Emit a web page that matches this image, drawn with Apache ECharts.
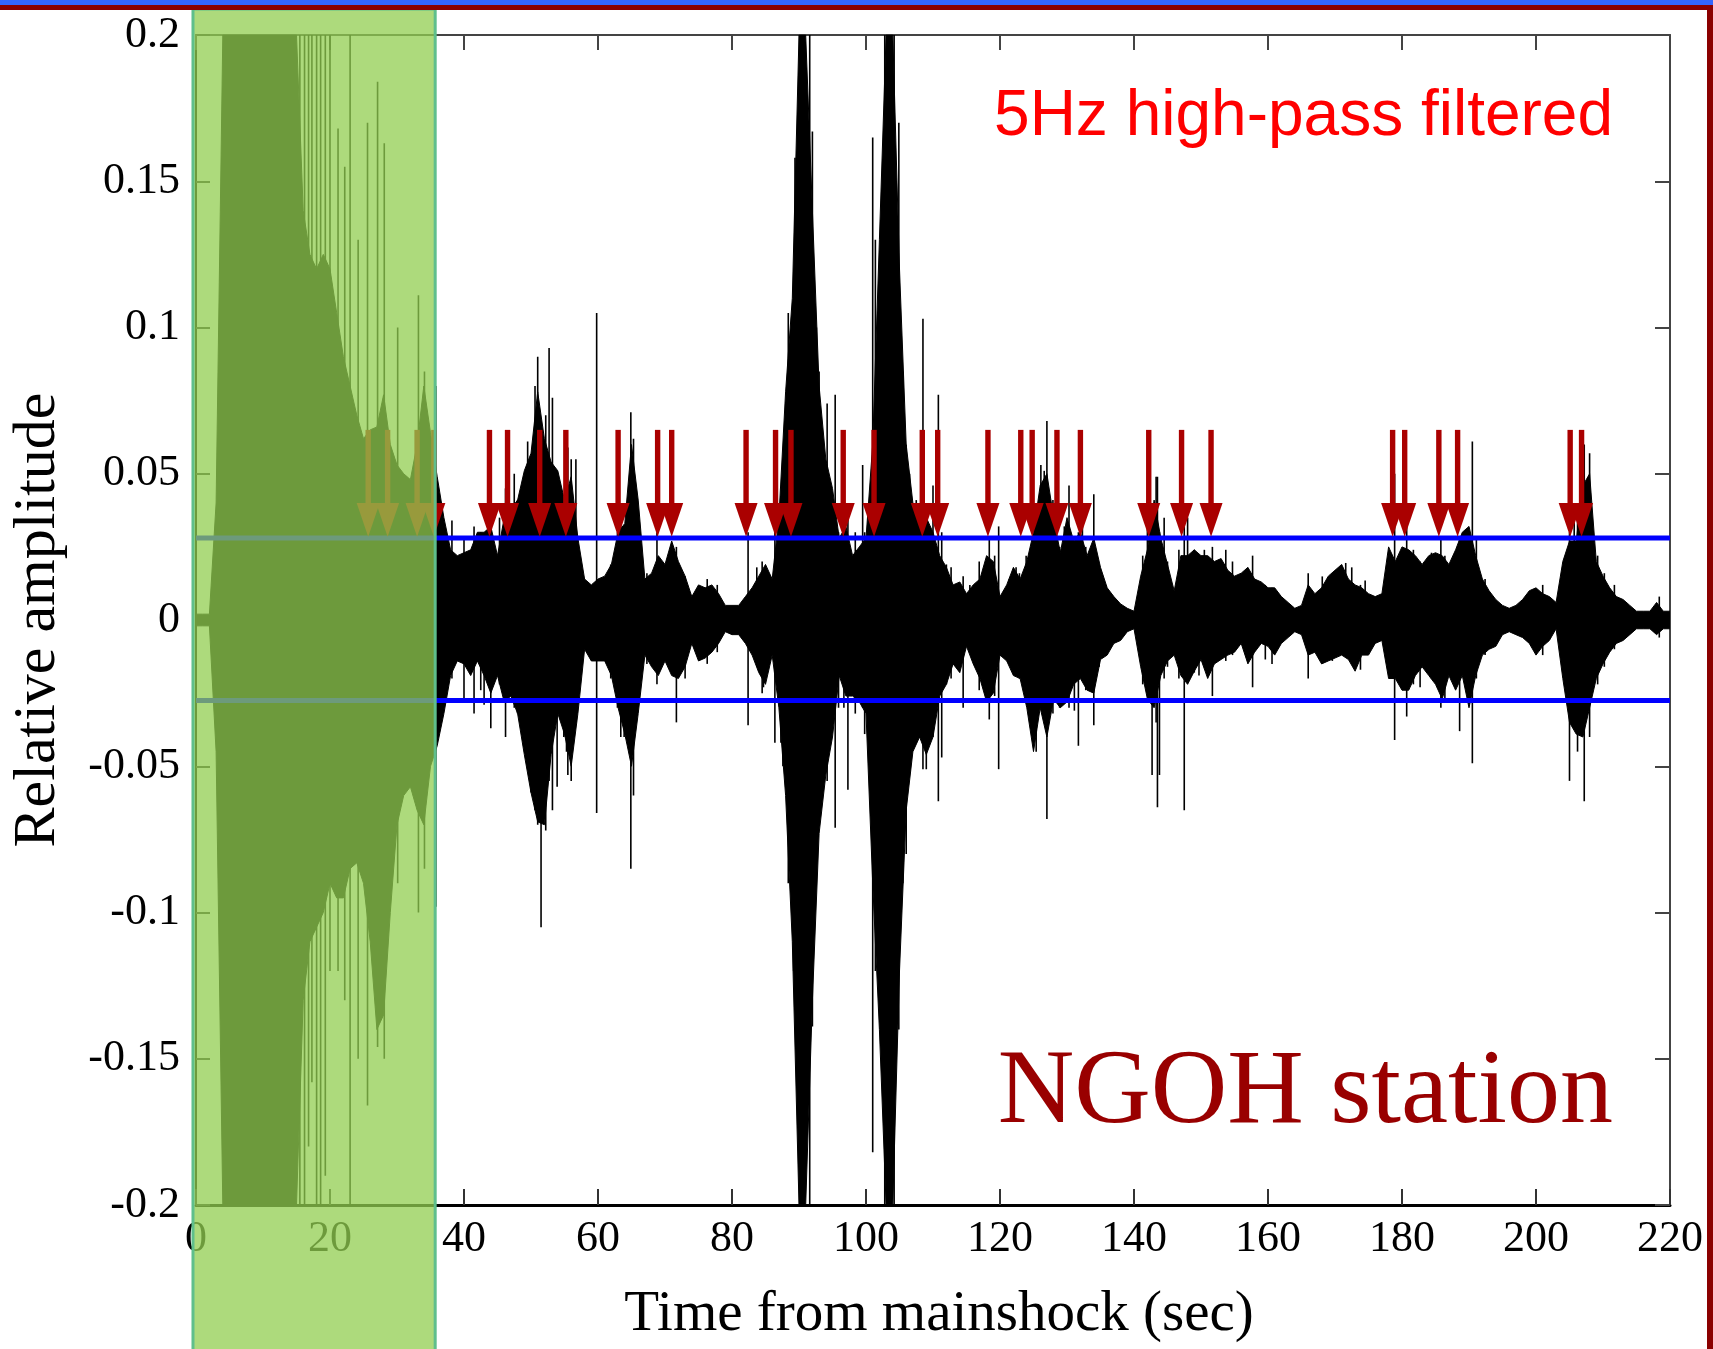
<!DOCTYPE html>
<html>
<head>
<meta charset="UTF-8">
<title>NGOH station - 5Hz high-pass filtered</title>
<script src="https://cdn.jsdelivr.net/npm/echarts@6/dist/echarts.min.js"></script>
<style>
    html, body {
        margin: 0;
        padding: 0;
        background: #fff;
    }
    #chart {
        width: 1713px;
        height: 1349px;
    }
</style>
</head>
<body>
<div id="chart"></div>
<script>
    // sample step of the envelope arrays (sec)
    var dt = 1;

    // upper envelope of the trace, one value per second from 0 to 220 s
    var upper = [
        0.002, 0.002, 0.002, 0.04, 0.2, 0.2, 0.2, 0.2, 0.2, 0.2,
        0.2, 0.2, 0.2, 0.2, 0.2, 0.2, 0.14, 0.125, 0.12, 0.125,
        0.12, 0.105, 0.09, 0.08, 0.07, 0.062, 0.065, 0.066, 0.077, 0.06,
        0.053, 0.05, 0.048, 0.06, 0.08, 0.064, 0.049, 0.035, 0.024, 0.022,
        0.023, 0.024, 0.03, 0.03, 0.032, 0.022, 0.035, 0.038, 0.041, 0.051,
        0.057, 0.078, 0.062, 0.054, 0.051, 0.041, 0.049, 0.028, 0.014, 0.012,
        0.014, 0.015, 0.019, 0.03, 0.033, 0.06, 0.041, 0.014, 0.016, 0.022,
        0.019, 0.027, 0.02, 0.015, 0.008, 0.012, 0.011, 0.012, 0.009, 0.005,
        0.005, 0.005, 0.008, 0.011, 0.015, 0.019, 0.014, 0.035, 0.078, 0.11,
        0.2, 0.2, 0.14, 0.08, 0.055, 0.045, 0.028, 0.032, 0.022, 0.025,
        0.028, 0.06, 0.13, 0.2, 0.2, 0.12, 0.06, 0.04, 0.035, 0.035,
        0.03, 0.022, 0.018, 0.012, 0.013, 0.009, 0.012, 0.014, 0.022, 0.02,
        0.008, 0.012, 0.018, 0.014, 0.02, 0.03, 0.046, 0.05, 0.035, 0.023,
        0.035, 0.027, 0.03, 0.022, 0.028, 0.018, 0.011, 0.008, 0.0055, 0.004,
        0.003, 0.015, 0.024, 0.041, 0.028, 0.019, 0.01, 0.022, 0.022, 0.024,
        0.022, 0.022, 0.02, 0.021, 0.017, 0.015, 0.016, 0.018, 0.014, 0.013,
        0.011, 0.011, 0.008, 0.006, 0.004, 0.005, 0.012, 0.009, 0.011, 0.015,
        0.017, 0.019, 0.014, 0.012, 0.011, 0.009, 0.008, 0.009, 0.025, 0.02,
        0.025, 0.024, 0.022, 0.019, 0.022, 0.023, 0.022, 0.019, 0.024, 0.03,
        0.032, 0.022, 0.014, 0.01, 0.007, 0.005, 0.004, 0.005, 0.007, 0.01,
        0.011, 0.009, 0.008, 0.006, 0.02, 0.027, 0.027, 0.046, 0.05, 0.02,
        0.015, 0.011, 0.008, 0.007, 0.005, 0.003, 0.003, 0.003, 0.006, 0.003,
        0.003
    ];

    // lower envelope, same sampling
    var lower = [
        -0.002, -0.002, -0.002, -0.045, -0.2, -0.2, -0.2, -0.2, -0.2, -0.2,
        -0.2, -0.2, -0.2, -0.2, -0.2, -0.2, -0.13, -0.11, -0.105, -0.1,
        -0.09, -0.095, -0.095, -0.085, -0.083, -0.09, -0.11, -0.14, -0.135, -0.1,
        -0.07, -0.06, -0.057, -0.065, -0.07, -0.05, -0.043, -0.032, -0.019, -0.014,
        -0.015, -0.019, -0.014, -0.019, -0.025, -0.019, -0.028, -0.026, -0.032, -0.046,
        -0.059, -0.069, -0.07, -0.046, -0.032, -0.039, -0.05, -0.032, -0.01, -0.014,
        -0.014, -0.014, -0.019, -0.03, -0.039, -0.05, -0.032, -0.012, -0.016, -0.019,
        -0.014, -0.019, -0.02, -0.016, -0.008, -0.014, -0.013, -0.011, -0.008, -0.004,
        -0.005, -0.005, -0.008, -0.012, -0.018, -0.022, -0.012, -0.03, -0.06, -0.11,
        -0.2, -0.2, -0.13, -0.073, -0.053, -0.04, -0.019, -0.026, -0.026, -0.028,
        -0.032, -0.09, -0.14, -0.2, -0.2, -0.12, -0.065, -0.045, -0.04, -0.046,
        -0.04, -0.026, -0.022, -0.015, -0.018, -0.009, -0.015, -0.02, -0.028, -0.025,
        -0.012, -0.014, -0.019, -0.02, -0.03, -0.045, -0.03, -0.04, -0.027, -0.03,
        -0.028, -0.022, -0.02, -0.024, -0.025, -0.0135, -0.012, -0.008, -0.007, -0.004,
        -0.003, -0.016, -0.027, -0.03, -0.019, -0.014, -0.012, -0.019, -0.022, -0.0175,
        -0.0135, -0.02, -0.015, -0.0135, -0.012, -0.011, -0.008, -0.015, -0.011, -0.008,
        -0.009, -0.012, -0.008, -0.006, -0.004, -0.005, -0.012, -0.011, -0.015, -0.014,
        -0.013, -0.012, -0.0135, -0.0175, -0.012, -0.012, -0.008, -0.007, -0.02, -0.02,
        -0.024, -0.024, -0.019, -0.016, -0.019, -0.022, -0.027, -0.019, -0.024, -0.019,
        -0.03, -0.019, -0.012, -0.01, -0.009, -0.005, -0.004, -0.005, -0.006, -0.008,
        -0.012, -0.009, -0.007, -0.003, -0.02, -0.035, -0.039, -0.04, -0.03, -0.02,
        -0.015, -0.011, -0.008, -0.007, -0.005, -0.003, -0.003, -0.003, -0.005, -0.003,
        -0.003
    ];

    // single thin peaks that stick out of the envelope: [time, top, bottom]
    var spikes = [
        [15.5, 0.2, -0.2], [16.2, 0.2, -0.2], [16.8, 0.2, -0.18], [17.3, 0.2, -0.158],
        [18.0, 0.2, -0.2], [18.6, 0.2, -0.2], [19.3, 0.2, -0.19], [20.0, 0.2, -0.12],
        [21.2, 0.168, -0.12], [22.2, 0.155, -0.13], [23.0, 0.2, -0.2], [24.2, 0.13, -0.15],
        [25.6, 0.17, -0.166], [27.1, 0.184, -0.146], [28.1, 0.163, -0.15], [30.1, 0.1, -0.09],
        [33.2, 0.111, -0.1], [34.1, 0.085, -0.085],
        [35.8, 0.08, -0.098], [38.2, 0.034, -0.02], [40.0, 0.028, -0.027], [41.5, 0.032, -0.032],
        [42.5, 0.03, -0.024], [43.0, 0.026, -0.029], [44.0, 0.035, -0.037], [45.3, 0.035, -0.022],
        [46.2, 0.045, -0.04], [47.5, 0.05, -0.03], [48.0, 0.041, -0.032], [48.5, 0.035, -0.03],
        [49.5, 0.061, -0.05], [50.0, 0.055, -0.059], [50.6, 0.08, -0.065], [51.0, 0.09, -0.07],
        [51.5, 0.06, -0.105], [52.2, 0.07, -0.072], [52.7, 0.093, -0.055], [53.2, 0.076, -0.065],
        [53.9, 0.05, -0.057], [54.9, 0.041, -0.04], [55.3, 0.051, -0.045], [55.5, 0.059, -0.053],
        [56.0, 0.055, -0.055], [56.7, 0.055, -0.035], [59.8, 0.105, -0.066], [61.9, 0.019, -0.02],
        [62.9, 0.03, -0.03], [63.4, 0.04, -0.04], [63.9, 0.03, -0.04], [64.9, 0.071, -0.085],
        [65.3, 0.062, -0.06], [67.3, 0.016, -0.015], [68.8, 0.03, -0.022], [71.7, 0.025, -0.035],
        [73.0, 0.015, -0.02], [76.3, 0.014, -0.015], [77.8, 0.012, -0.011],
        [82.4, 0.03, -0.036], [83.7, 0.018, -0.016], [84.5, 0.02, -0.025], [84.7, 0.017, -0.023],
        [86.4, 0.032, -0.042], [87.3, 0.035, -0.042], [87.6, 0.05, -0.05], [87.7, 0.049, -0.045],
        [88.4, 0.105, -0.09], [89.2, 0.092, -0.12], [89.4, 0.158, -0.13], [89.8, 0.16, -0.148],
        [90.1, 0.2, -0.2], [91.6, 0.2, -0.2], [92.0, 0.167, -0.139], [92.6, 0.1, -0.08],
        [93.0, 0.085, -0.068], [94.2, 0.074, -0.055], [95.4, 0.077, -0.071], [95.9, 0.03, -0.03],
        [96.7, 0.064, -0.03], [97.3, 0.035, -0.058], [98.4, 0.03, -0.032], [99.5, 0.053, -0.03],
        [99.8, 0.03, -0.039], [100.6, 0.032, -0.026], [101.0, 0.165, -0.182], [101.4, 0.13, -0.12],
        [102.8, 0.2, -0.2], [104.2, 0.2, -0.2], [104.9, 0.17, -0.14], [105.5, 0.085, -0.09],
        [106.0, 0.06, -0.08], [106.5, 0.05, -0.052], [107.5, 0.041, -0.04], [108.5, 0.103, -0.051],
        [109.0, 0.04, -0.051], [110.0, 0.046, -0.04], [110.8, 0.077, -0.062], [111.3, 0.03, -0.047],
        [112.0, 0.019, -0.022], [112.7, 0.018, -0.02], [114.5, 0.015, -0.03], [115.5, 0.012, -0.01],
        [116.9, 0.02, -0.024], [117.7, 0.018, -0.02], [118.4, 0.028, -0.034], [119.2, 0.022, -0.026],
        [119.8, 0.032, -0.051], [121.4, 0.014, -0.012], [122.4, 0.018, -0.019], [122.9, 0.016, -0.02],
        [123.9, 0.022, -0.022],
        [125.4, 0.04, -0.045], [126.1, 0.053, -0.03], [126.6, 0.051, -0.034], [127.0, 0.068, -0.068],
        [127.9, 0.041, -0.032], [128.9, 0.025, -0.03], [129.6, 0.032, -0.025], [130.3, 0.046, -0.03],
        [131.1, 0.027, -0.031], [131.7, 0.03, -0.043], [132.3, 0.032, -0.02], [132.8, 0.025, -0.024],
        [134.0, 0.043, -0.036], [134.8, 0.019, -0.016], [135.8, 0.012, -0.012], [141.3, 0.022, -0.022],
        [142.0, 0.041, -0.025], [142.7, 0.03, -0.053], [143.3, 0.049, -0.035], [143.5, 0.049, -0.064],
        [143.8, 0.03, -0.053], [144.5, 0.035, -0.02], [145.0, 0.02, -0.016], [146.7, 0.024, -0.02],
        [147.5, 0.032, -0.065], [148.0, 0.035, -0.02], [149.0, 0.024, -0.018], [149.7, 0.02, -0.019],
        [150.5, 0.024, -0.015], [151.7, 0.025, -0.026], [153.7, 0.024, -0.014], [154.7, 0.02, -0.012],
        [157.7, 0.022, -0.023], [159.6, 0.012, -0.0135], [160.6, 0.011, -0.015], [166.0, 0.016, -0.02],
        [168.1, 0.0149, -0.015], [169.6, 0.016, -0.014], [171.6, 0.0195, -0.012], [172.5, 0.018, -0.013],
        [173.8, 0.012, -0.017],
        [174.5, 0.0135, -0.012], [177.5, 0.009, -0.008], [178.9, 0.05, -0.041], [179.9, 0.023, -0.02],
        [180.7, 0.035, -0.033], [181.7, 0.024, -0.022], [182.7, 0.02, -0.023], [184.4, 0.023, -0.02],
        [185.8, 0.028, -0.03], [186.4, 0.022, -0.027], [188.6, 0.028, -0.038], [189.6, 0.03, -0.02],
        [190.5, 0.061, -0.049], [191.1, 0.028, -0.02], [192.4, 0.014, -0.012], [199.5, 0.01, -0.008],
        [201.0, 0.012, -0.012], [205.0, 0.03, -0.055], [205.7, 0.0365, -0.03], [206.2, 0.04, -0.045],
        [207.2, 0.06, -0.062], [208.0, 0.057, -0.04], [209.2, 0.022, -0.022], [210.2, 0.016, -0.016],
        [211.7, 0.012, -0.01], [218.4, 0.008, -0.006]
    ];

    // detected event times (red arrows), sec
    var arrowTimes = [
        25.7, 28.6, 33.0, 35.5, 43.8, 46.5, 51.3, 55.2, 63.0, 68.9, 71.0,
        82.1, 86.5, 88.8, 96.6, 101.2, 108.4, 110.7, 118.2, 123.1, 124.8,
        128.5, 132.0, 142.2, 147.1, 151.5, 178.6, 180.4, 185.5, 188.3, 205.1, 206.8
    ];

    // detection threshold (blue lines)
    var thresholds = [0.028, -0.0275];

    // shaded (masked) time window
    var shadeStart = -0.45;
    var shadeEnd = 35.7;

    var xMin = 0, xMax = 220, xStep = 20;
    var yMin = -0.2, yMax = 0.2, yStep = 0.05;

    // arrow shape, in amplitude units
    var arrowTop = 0.065, arrowHeadBase = 0.040, arrowTip = 0.0285;

    var serif = '"Liberation Serif", "Times New Roman", serif';

    var chart = echarts.init(document.getElementById('chart'), null, { renderer: 'canvas' });

    function toPairs(arr) {
        return arr.map(function (v, i) { return [i * dt, v]; });
    }

    var tickFmt = function (v) { return String(+v.toFixed(2)); };

    function frameAxis(extra) {
        var base = {
            type: 'value',
            axisLine: { show: true, onZero: false, lineStyle: { color: '#444', width: 2 } },
            axisTick: { show: true, inside: true, length: 15, lineStyle: { color: '#444', width: 2 } },
            axisLabel: { show: false },
            splitLine: { show: false }
        };
        return Object.assign(base, extra);
    }

    var option = {
        animation: false,
        backgroundColor: '#fff',
        grid: { left: 191, right: 43, top: 35, bottom: 144 },
        xAxis: [
            {
                type: 'value', min: xMin, max: xMax, interval: xStep,
                name: 'Time from mainshock (sec)',
                nameLocation: 'middle',
                nameGap: 82,
                nameTextStyle: { fontFamily: serif, fontSize: 57, color: '#000', padding: [0, 0, 0, 12] },
                axisLine: { show: true, onZero: false, lineStyle: { color: '#000', width: 3 } },
                axisTick: { show: true, inside: true, length: 16, lineStyle: { color: '#333', width: 2 } },
                axisLabel: { fontFamily: serif, fontSize: 44, color: '#000', margin: 12 },
                splitLine: { show: false }
            },
            frameAxis({ min: xMin, max: xMax, interval: xStep, position: 'top' })
        ],
        yAxis: [
            {
                type: 'value', min: yMin, max: yMax, interval: yStep,
                name: 'Relative amplitude',
                nameLocation: 'middle',
                nameRotate: 90,
                nameGap: 128,
                nameTextStyle: { fontFamily: serif, fontSize: 60, color: '#000' },
                axisLine: { show: true, onZero: false, lineStyle: { color: '#000', width: 2 } },
                axisTick: { show: true, inside: true, length: 14, lineStyle: { color: '#333', width: 2 } },
                axisLabel: { fontFamily: serif, fontSize: 44, color: '#000', margin: 16, formatter: tickFmt },
                splitLine: { show: false }
            },
            frameAxis({ min: yMin, max: yMax, interval: yStep, position: 'right' })
        ],
        series: [
            {
                type: 'line',
                data: toPairs(upper),
                showSymbol: false,
                silent: true,
                clip: true,
                z: 2,
                lineStyle: { color: '#000', width: 1 },
                areaStyle: { color: '#000', opacity: 1 }
            },
            {
                type: 'line',
                data: toPairs(lower),
                showSymbol: false,
                silent: true,
                clip: true,
                z: 2,
                lineStyle: { color: '#000', width: 1 },
                areaStyle: { color: '#000', opacity: 1 }
            },
            {
                // thin peaks
                type: 'custom',
                data: spikes,
                silent: true,
                z: 2,
                encode: { x: 0, y: [1, 2] },
                renderItem: function (params, api) {
                    var a = api.coord([api.value(0), api.value(1)]);
                    var b = api.coord([api.value(0), api.value(2)]);
                    return {
                        type: 'line',
                        shape: { x1: a[0], y1: a[1], x2: b[0], y2: b[1] },
                        style: { stroke: '#000', lineWidth: 1.6 }
                    };
                }
            },
            {
                // threshold lines
                type: 'custom',
                data: thresholds.map(function (v) { return [v]; }),
                silent: true,
                z: 3,
                encode: { y: 0 },
                renderItem: function (params, api) {
                    var a = api.coord([xMin, api.value(0)]);
                    var b = api.coord([xMax, api.value(0)]);
                    return {
                        type: 'line',
                        shape: { x1: a[0], y1: a[1], x2: b[0], y2: b[1] },
                        style: { stroke: '#0000ff', lineWidth: 5 }
                    };
                }
            },
            {
                // event arrows
                type: 'custom',
                data: arrowTimes.map(function (t) { return [t]; }),
                silent: true,
                z: 4,
                encode: { x: 0 },
                renderItem: function (params, api) {
                    var t = api.value(0);
                    var top = api.coord([t, arrowTop]);
                    var base = api.coord([t, arrowHeadBase]);
                    var tip = api.coord([t, arrowTip]);
                    var x = top[0];
                    return {
                        type: 'group',
                        children: [
                            {
                                type: 'rect',
                                shape: { x: x - 2.7, y: top[1], width: 5.4, height: base[1] - top[1] + 1 },
                                style: { fill: '#aa0000' }
                            },
                            {
                                type: 'polygon',
                                shape: { points: [[x - 11.5, base[1]], [x + 11.5, base[1]], [x, tip[1]]] },
                                style: { fill: '#aa0000' }
                            }
                        ]
                    };
                }
            }
        ]
    };

    chart.setOption(option);

    // overlay, frame bars and captions
    var sx0 = chart.convertToPixel({ xAxisIndex: 0 }, shadeStart);
    var sx1 = chart.convertToPixel({ xAxisIndex: 0 }, shadeEnd);
    var W = chart.getWidth(), H = chart.getHeight();

    chart.setOption({
        graphic: [
            {
                type: 'rect', z: 100, silent: true,
                shape: { x: sx0, y: 9, width: sx1 - sx0, height: H - 9 + 4 },
                style: { fill: 'rgba(146,205,80,0.75)', stroke: '#5fbf8c', lineWidth: 3 }
            },
            {
                type: 'rect', z: 110, silent: true,
                shape: { x: 0, y: 0, width: W, height: 5 },
                style: { fill: '#3366ff' }
            },
            {
                type: 'rect', z: 110, silent: true,
                shape: { x: 0, y: 5, width: W, height: 5 },
                style: { fill: '#8b0000' }
            },
            {
                type: 'rect', z: 110, silent: true,
                shape: { x: W - 6, y: 5, width: 6, height: H - 5 },
                style: { fill: '#8b0000' }
            },
            {
                type: 'text', z: 50, silent: true,
                x: 1613, y: 117,
                style: {
                    text: '5Hz high-pass filtered',
                    font: '64px "Liberation Sans", Arial, sans-serif',
                    fill: '#ff0000',
                    textAlign: 'right',
                    textVerticalAlign: 'middle'
                }
            },
            {
                type: 'text', z: 50, silent: true,
                x: 1613, y: 1094,
                style: {
                    text: 'NGOH station',
                    font: '106px ' + serif,
                    fill: '#990000',
                    textAlign: 'right',
                    textVerticalAlign: 'middle'
                }
            }
        ]
    });
</script>
</body>
</html>
